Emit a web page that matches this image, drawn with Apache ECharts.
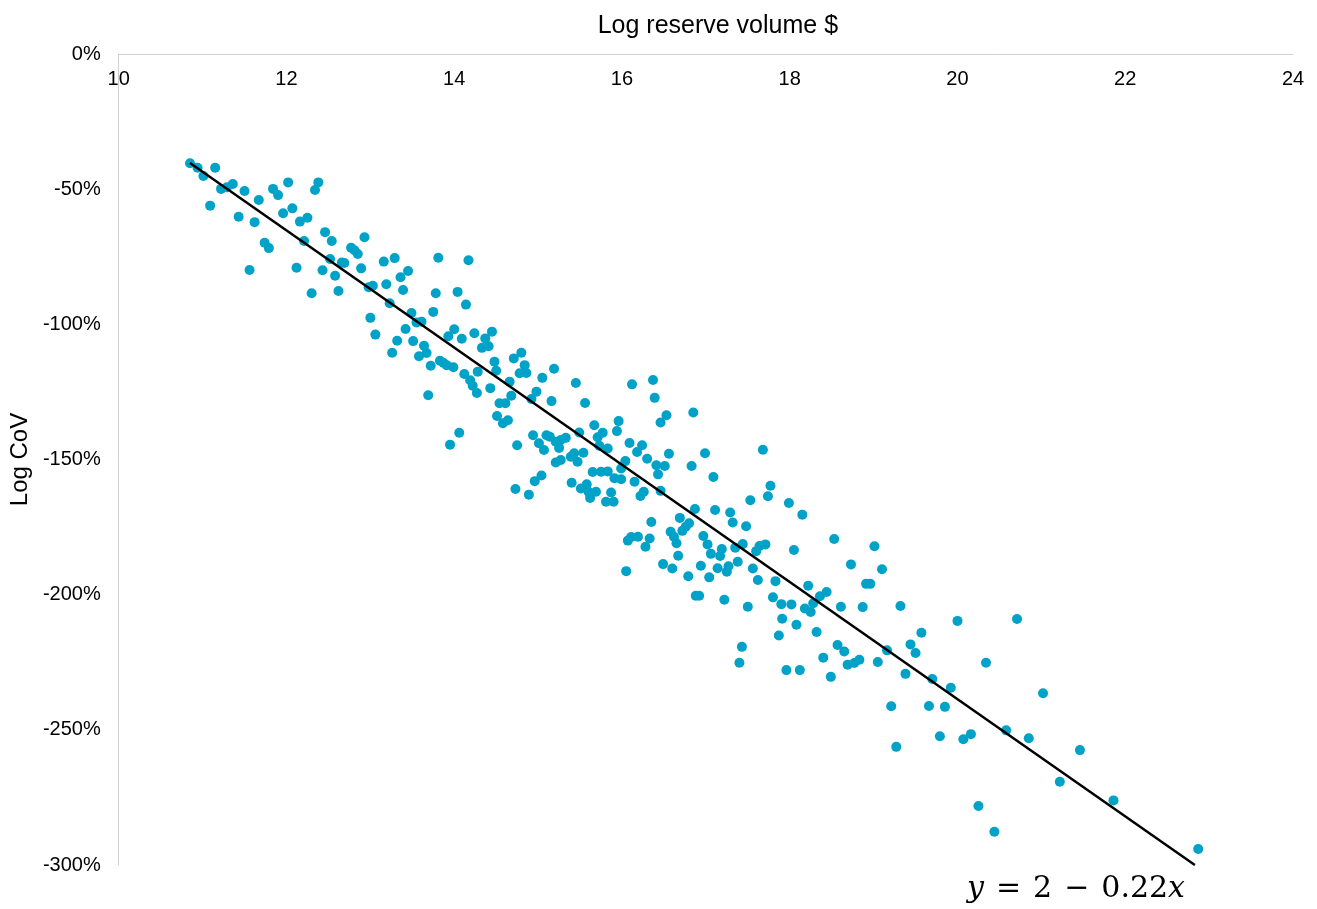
<!DOCTYPE html>
<html>
<head>
<meta charset="utf-8">
<title>Log CoV vs log reserve volume</title>
<script src="https://cdn.jsdelivr.net/npm/echarts@6/dist/echarts.min.js"></script>
<style>
  html, body { margin: 0; padding: 0; background: #fff; }
  #chart { width: 1317px; height: 909px; }
</style>
</head>
<body>
<div id="chart"></div>
<script>
// x: log reserve volume, y: log CoV (fraction, shown as %)
const logVolume = [
  10.85, 10.94, 11.01, 11.15, 11.22, 11.29, 11.36, 11.50, 11.09, 11.43,
  11.62, 11.67, 11.84, 11.90, 12.02, 11.96, 12.07, 12.38, 12.34, 12.16,
  12.25, 11.74, 11.79, 11.56, 12.21, 12.12, 12.43, 12.30, 12.46, 12.54,
  12.52, 12.93, 12.77, 12.81, 12.85, 12.66, 12.69, 12.58, 12.62, 12.89,
  13.16, 13.29, 13.81, 14.17, 13.45, 13.36, 12.98, 13.03, 13.19, 13.39,
  13.78, 14.04, 14.14, 13.23, 13.49, 13.75, 13.55, 13.61, 13.00, 13.06,
  13.42, 13.32, 13.51, 13.64, 13.67, 13.58, 13.26, 13.72, 14.00, 13.93,
  14.09, 14.24, 14.33, 13.83, 13.87, 13.91, 13.99, 14.12, 14.19, 14.22,
  14.27, 14.28, 13.69, 14.06, 13.95, 14.45, 14.37, 14.41, 14.71, 14.80,
  14.48, 14.50, 14.84, 14.78, 14.86, 15.19, 15.05, 14.66, 14.43, 14.98,
  15.45, 14.68, 14.92, 15.16, 15.56, 14.54, 14.61, 14.51, 14.58, 14.64,
  16.12, 15.67, 15.96, 15.94, 15.77, 15.71, 15.49, 14.94, 15.10, 15.14,
  15.01, 15.21, 15.27, 15.33, 15.07, 15.25, 14.75, 15.73, 15.83, 16.09,
  15.54, 15.39, 15.43, 15.47, 15.21, 15.27, 16.04, 15.99, 15.65, 15.75,
  15.83, 15.91, 15.99, 15.04, 14.96, 15.40, 15.51, 15.58, 15.60, 15.69,
  15.62, 15.87, 15.81, 15.90, 14.73, 14.89, 16.11, 16.37, 16.39, 16.53,
  16.46, 16.85, 16.24, 16.18, 16.30, 16.56, 16.41, 16.51, 16.43, 16.83,
  16.99, 17.68, 17.09, 16.15, 16.22, 16.26, 16.46, 17.77, 17.74, 17.53,
  16.87, 17.11, 17.29, 17.32, 17.48, 16.35, 16.69, 16.80, 16.76, 16.72,
  16.58, 16.62, 16.65, 16.19, 16.33, 16.28, 16.97, 17.02, 17.19, 17.17,
  17.06, 17.35, 17.44, 17.60, 17.64, 17.71, 16.67, 16.49, 16.60, 16.94,
  17.14, 17.27, 17.25, 17.38, 17.56, 16.79, 17.04, 17.62, 17.83, 16.88,
  16.92, 17.22, 17.50, 17.80, 17.90, 17.91, 17.87, 17.43, 17.40, 17.99,
  18.15, 18.53, 18.05, 19.01, 18.73, 19.10, 18.91, 18.96, 18.22, 18.44,
  18.36, 18.02, 18.18, 18.25, 18.61, 18.87, 19.32, 18.28, 18.08, 18.32,
  19.57, 19.44, 19.50, 18.57, 18.65, 19.16, 18.40, 18.69, 18.77, 18.83,
  19.05, 17.96, 18.12, 18.49, 19.38, 19.70, 19.21, 19.66, 20.00, 20.71,
  20.34, 19.92, 21.02, 19.85, 19.79, 20.07, 20.16, 20.58, 20.85, 21.46,
  21.22, 20.25, 20.44, 21.86, 22.87, 19.27, 16.07, 16.05
];

const logCov = [
  -0.404, -0.421, -0.451, -0.421, -0.499, -0.493, -0.481, -0.507, -0.561, -0.602,
  -0.622, -0.540, -0.499, -0.522, -0.475, -0.589, -0.571, -0.475, -0.503, -0.620,
  -0.606, -0.698, -0.718, -0.799, -0.692, -0.791, -0.800, -0.885, -0.659, -0.692,
  -0.758, -0.678, -0.717, -0.726, -0.740, -0.771, -0.773, -0.820, -0.877, -0.793,
  -0.768, -0.755, -0.754, -0.763, -0.803, -0.826, -0.863, -0.857, -0.852, -0.873,
  -0.885, -0.880, -0.927, -0.922, -0.958, -0.954, -0.993, -0.990, -0.976, -1.038,
  -1.017, -1.061, -1.062, -1.079, -1.106, -1.118, -1.105, -1.153, -1.018, -1.044,
  -1.053, -1.033, -1.087, -1.135, -1.142, -1.151, -1.159, -1.184, -1.207, -1.227,
  -1.254, -1.175, -1.262, -1.401, -1.445, -1.027, -1.052, -1.081, -1.126, -1.105,
  -1.138, -1.172, -1.151, -1.181, -1.180, -1.164, -1.198, -1.212, -1.236, -1.249,
  -1.217, -1.264, -1.276, -1.284, -1.291, -1.292, -1.292, -1.339, -1.366, -1.355,
  -1.222, -1.373, -1.358, -1.395, -1.401, -1.418, -1.400, -1.410, -1.410, -1.416,
  -1.440, -1.434, -1.428, -1.420, -1.465, -1.457, -1.447, -1.449, -1.459, -1.439,
  -1.475, -1.490, -1.477, -1.508, -1.511, -1.502, -1.506, -1.533, -1.546, -1.545,
  -1.544, -1.569, -1.573, -1.559, -1.580, -1.586, -1.607, -1.592, -1.619, -1.619,
  -1.642, -1.622, -1.656, -1.656, -1.609, -1.630, -1.787, -1.206, -1.272, -1.336,
  -1.363, -1.326, -1.447, -1.472, -1.497, -1.479, -1.521, -1.524, -1.555, -1.524,
  -1.477, -1.464, -1.565, -1.582, -1.635, -1.619, -1.616, -1.597, -1.636, -1.651,
  -1.683, -1.687, -1.696, -1.733, -1.747, -1.731, -1.716, -1.736, -1.749, -1.764,
  -1.767, -1.786, -1.810, -1.786, -1.792, -1.823, -1.783, -1.814, -1.831, -1.857,
  -1.849, -1.826, -1.813, -1.839, -1.820, -1.814, -1.856, -1.887, -1.903, -1.893,
  -1.902, -1.895, -1.915, -1.878, -1.903, -1.932, -1.936, -1.946, -1.950, -2.004,
  -2.004, -2.019, -2.045, -2.010, -2.035, -2.089, -2.151, -2.193, -2.252, -1.661,
  -1.704, -1.794, -1.835, -1.821, -1.888, -1.906, -1.960, -1.960, -1.967, -1.990,
  -2.006, -2.036, -2.051, -2.064, -2.045, -2.046, -2.042, -2.032, -2.111, -2.138,
  -2.141, -2.184, -2.216, -2.186, -2.210, -2.206, -2.233, -2.259, -2.253, -2.241,
  -2.249, -2.279, -2.279, -2.304, -2.293, -2.312, -2.413, -2.412, -2.097, -2.090,
  -2.252, -2.344, -2.365, -2.415, -2.524, -2.535, -2.516, -2.502, -2.531, -2.575,
  -2.692, -2.782, -2.877, -2.761, -2.941, -2.563, -1.800, -1.913
];

// trend line end points, as drawn
const trendX = [10.85, 22.83];
const trendY = [-0.403, -3.0];

const xTicks = [10, 24, 2];      // min, max, step
const yTicks = [-3, 0, 0.5];

const chart = echarts.init(document.getElementById("chart"), null, { renderer: "canvas" });

const labelFont = "Liberation Sans, Arial, sans-serif";
const mathFont = "DejaVu Serif, serif";

const option = {
  backgroundColor: "#fff",
  animation: false,
  grid: {
    left: 117,
    right: 24,
    top: 54,
    bottom: 44,
    containLabel: false,
  },
  xAxis: {
    type: "value",
    position: "top",
    min: xTicks[0],
    max: xTicks[1],
    interval: xTicks[2],
    name: "Log reserve volume $",
    nameLocation: "middle",
    nameGap: 15,
    nameTextStyle: {
      color: "#000",
      fontSize: 25,
      fontFamily: labelFont,
      padding: [0, 0, 0, 24],
    },
    axisLine: {
      onZero: false,
      lineStyle: { color: "#d0d0d0", width: 1 },
    },
    axisTick: { show: false },
    splitLine: { show: false },
    axisLabel: {
      inside: true,
      margin: 15,
      color: "#000",
      fontSize: 20,
      fontFamily: labelFont,
      showMinLabel: true,
      showMaxLabel: true,
    },
  },
  yAxis: {
    type: "value",
    min: yTicks[0],
    max: yTicks[1],
    interval: yTicks[2],
    name: "Log CoV",
    nameLocation: "middle",
    nameGap: 83,
    nameTextStyle: {
      color: "#000",
      fontSize: 24,
      fontFamily: labelFont,
    },
    axisLine: {
      show: true,
      onZero: false,
      lineStyle: { color: "#d0d0d0", width: 1 },
    },
    axisTick: { show: false },
    splitLine: { show: false },
    axisLabel: {
      margin: 18,
      color: "#000",
      fontSize: 20,
      fontFamily: labelFont,
      formatter: (v) => Math.round(v * 100) + "%",
    },
  },
  series: [
    {
      type: "scatter",
      data: logVolume.map((x, i) => [x, logCov[i]]),
      symbol: "circle",
      symbolSize: 10,
      itemStyle: { color: "#00a2c7", opacity: 1 },
      z: 2,
    },
    {
      type: "line",
      data: trendX.map((x, i) => [x, trendY[i]]),
      symbol: "none",
      clip: true,
      lineStyle: { color: "#000", width: 2.5 },
      z: 3,
    },
  ],
  graphic: [
    {
      type: "text",
      left: 967,
      top: 874,
      style: {
        text: "{i|y}{o|=}{n|2}{o|−}{n|0.22}{i|x}",
        fill: "#000",
        rich: {
          i: { fontStyle: "italic", fontSize: 30, fontFamily: mathFont },
          n: { fontSize: 30, fontFamily: mathFont },
          o: { fontSize: 30, fontFamily: mathFont, padding: [0, 12] },
        },
      },
    },
  ],
};

chart.setOption(option);

window.addEventListener("resize", () => {
  chart && chart.resize();
});
</script>
</body>
</html>
